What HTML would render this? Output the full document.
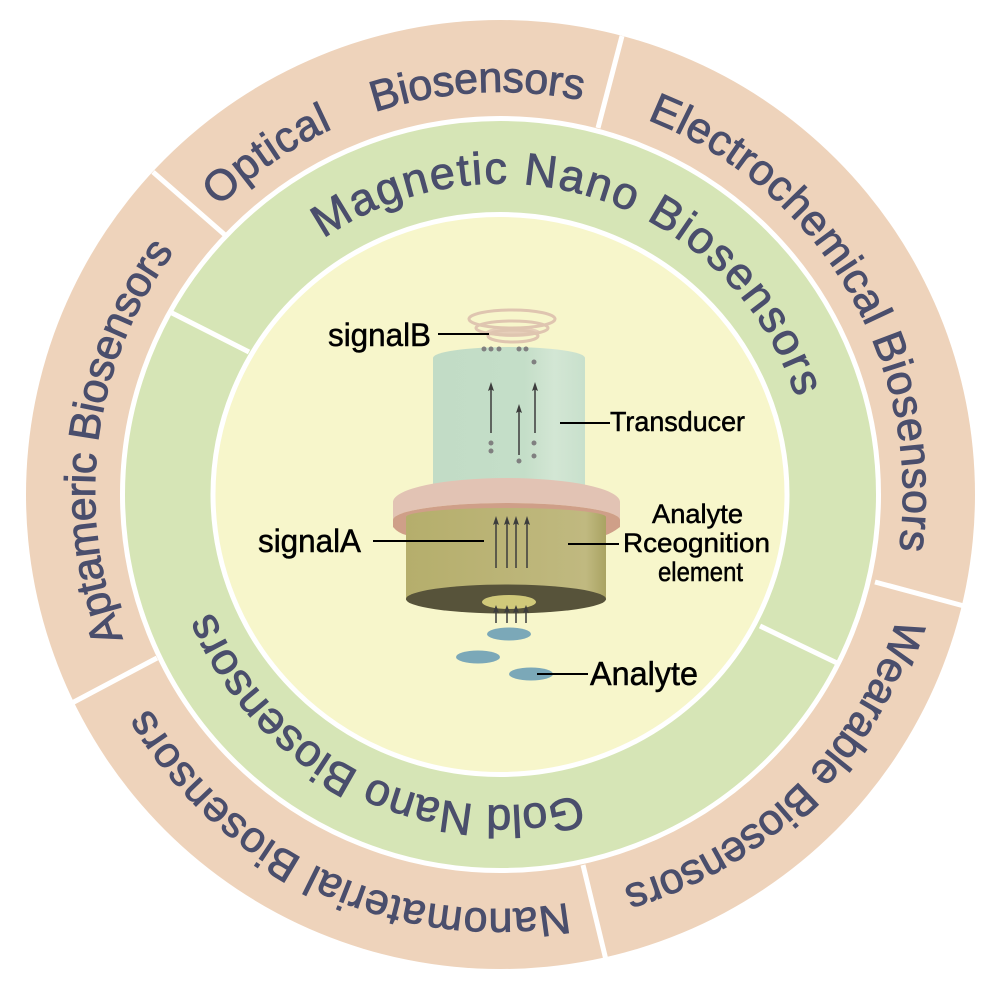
<!DOCTYPE html>
<html><head><meta charset="utf-8"><style>
html,body{margin:0;padding:0;background:#fff}
svg{display:block}
.o{font:43px "Liberation Sans",sans-serif;fill:#4a4e6c;stroke:#4a4e6c;stroke-width:.9}
.g{font:45px "Liberation Sans",sans-serif;fill:#4a4e6c;stroke:#4a4e6c;stroke-width:.9}
.l{font-family:"Liberation Sans",sans-serif;fill:#000;stroke:#000;stroke-width:.5}
</style></head><body>
<svg width="1000" height="994" viewBox="0 0 1000 994" xmlns="http://www.w3.org/2000/svg">
<defs>
<path id="po" d="M500.5 92 a402.5 402.5 0 1 1 0 805 a402.5 402.5 0 1 1 0 -805 a402.5 402.5 0 1 1 0 805 a402.5 402.5 0 1 1 0 -805"/>
<path id="pg" d="M500.5 183.500 a311 311 0 1 1 0 622 a311 311 0 1 1 0 -622 a311 311 0 1 1 0 622 a311 311 0 1 1 0 -622"/>
<linearGradient id="cg" x1="0" x2="1" y1="0" y2="0"><stop offset="0" stop-color="#c2dcc6"/><stop offset=".6" stop-color="#c4dec8"/><stop offset=".8" stop-color="#d3e6d4"/><stop offset="1" stop-color="#c8e0cc"/></linearGradient>
<linearGradient id="ol" x1="0" x2="1" y1="0" y2="0"><stop offset="0" stop-color="#b5ae6c"/><stop offset=".65" stop-color="#bdb67a"/><stop offset=".9" stop-color="#c0b980"/><stop offset="1" stop-color="#a9a362"/></linearGradient>
</defs>
<ellipse cx="500.5" cy="494.5" rx="474.5" ry="474.5" fill="#eed3bb"/>
<ellipse cx="500.5" cy="494.5" rx="378" ry="376" fill="#d6e5b6" stroke="#fff" stroke-width="5"/>
<ellipse cx="500" cy="494.5" rx="287" ry="280" fill="#f7f6cb" stroke="#fff" stroke-width="5"/>
<g stroke="#fff" stroke-width="5" fill="none">
<path d="M622 36L598 128M153 172L225 235M875 582L964 606M583 865L606 960M157 658L72 703M172 313L249 352M760 626L837 663"/>
</g>
<text class="o"><textPath href="#po" startOffset="2216" textLength="139">Optical</textPath></text>
<text class="o"><textPath href="#po" startOffset="2400" textLength="210">Biosensors</textPath></text>
<text class="o"><textPath href="#po" startOffset="150" textLength="538">Electrochemical Biosensors</textPath></text>
<g transform="translate(12 5)"><text class="o"><textPath href="#po" startOffset="752" textLength="400">Wearable Biosensors</textPath></text></g>
<g transform="translate(-3 12)"><text class="o"><textPath href="#po" startOffset="1193" textLength="492">Nanomaterial Biosensors</textPath></text></g>
<g transform="translate(-3 -3)"><text class="o"><textPath href="#po" startOffset="1745" textLength="408">Aptameric Biosensors</textPath></text></g>
<text class="g"><textPath href="#pg" startOffset="1765" textLength="578">Magnetic Nano Biosensors</textPath></text>
<text class="g"><textPath href="#pg" startOffset="896" textLength="449">Gold Nano Biosensors</textPath></text>

<!-- device -->
<ellipse cx="513" cy="332" rx="27" ry="5" fill="#e6ceb9"/>
<g fill="none" stroke="#dfc5b0" stroke-width="3">
<ellipse cx="512" cy="319" rx="43" ry="9"/>
<ellipse cx="512" cy="328" rx="36" ry="7"/>
<ellipse cx="513" cy="336" rx="25" ry="6"/>
</g>
<path d="M433 358A76 11 0 0 1 585 358V490H433Z" fill="url(#cg)"/>
<path d="M393 502A113.500 24 0 0 1 620 502V520A113.500 17 0 0 0 393 520Z" fill="#e2c3b4"/>
<path d="M393 520A113.500 17 0 0 1 620 520V527Q612 533 606 535H406Q398 533 393 527Z" fill="#cf9f88"/>
<path d="M406 517A100 9 0 0 1 606 517V600H406Z" fill="url(#ol)"/>
<ellipse cx="506" cy="599" rx="100" ry="14.500" fill="#57533a"/>
<ellipse cx="509" cy="602" rx="27" ry="7" fill="#d0c97a"/>
<g fill="#7ba8b8">
<ellipse cx="509" cy="634" rx="22" ry="6.500"/>
<ellipse cx="478" cy="657" rx="22" ry="6.500"/>
<ellipse cx="531" cy="674" rx="22" ry="6.500"/>
</g>
<g fill="#808080">
<circle cx="484" cy="349" r="2.500"/><circle cx="491" cy="349" r="2.500"/><circle cx="499" cy="349" r="2.500"/>
<circle cx="519" cy="349" r="2.500"/><circle cx="526" cy="349" r="2.500"/><circle cx="534" cy="362" r="2.500"/>
<circle cx="491" cy="443" r="2.500"/><circle cx="491" cy="451" r="2.500"/><circle cx="534" cy="443" r="2.500"/>
<circle cx="534" cy="456" r="2.500"/><circle cx="519" cy="461" r="2.500"/>
</g>
<g stroke="#3c3c3c" stroke-width="1.500" fill="none">
<path d="M491 433V385M535 433V385M519 455V407M496 568V520M507 568V520M516 568V520M527 568V520M496 623V609M507 623V609M516 623V609M526 623V609"/>
</g>
<g fill="#3c3c3c">
<path d="M491 382l3 9l-3-1.500l-3 1.500z"/><path d="M535 382l3 9l-3-1.500l-3 1.500z"/><path d="M519 404l3 9l-3-1.500l-3 1.500z"/>
<path d="M496 516l3 9l-3-1.500l-3 1.500z"/><path d="M507 516l3 9l-3-1.500l-3 1.500z"/><path d="M516 516l3 9l-3-1.500l-3 1.500z"/><path d="M527 516l3 9l-3-1.500l-3 1.500z"/>
<path d="M496 605l3 8l-3-1.500l-3 1.500z"/><path d="M507 605l3 8l-3-1.500l-3 1.500z"/><path d="M516 605l3 8l-3-1.500l-3 1.500z"/><path d="M526 605l3 8l-3-1.500l-3 1.500z"/>
</g>
<g stroke="#000" stroke-width="2" fill="none">
<path d="M438 334H489M560 423H610M373 541H484M568 544H619M537 674H588"/>
</g>
<text class="l" x="328" y="346" font-size="32" textLength="103" lengthAdjust="spacingAndGlyphs">signalB</text>
<text class="l" x="610" y="431" font-size="28" textLength="135" lengthAdjust="spacingAndGlyphs">Transducer</text>
<text class="l" x="258" y="552" font-size="32" textLength="103" lengthAdjust="spacingAndGlyphs">signalA</text>
<text class="l" x="652" y="523" font-size="27" textLength="91" lengthAdjust="spacingAndGlyphs">Analyte</text>
<text class="l" x="623" y="552" font-size="27" textLength="147" lengthAdjust="spacingAndGlyphs">Rceognition</text>
<text class="l" x="658" y="581" font-size="27" textLength="85" lengthAdjust="spacingAndGlyphs">element</text>
<text class="l" x="590" y="685" font-size="33" textLength="108" lengthAdjust="spacingAndGlyphs">Analyte</text>
</svg>
</body></html>
